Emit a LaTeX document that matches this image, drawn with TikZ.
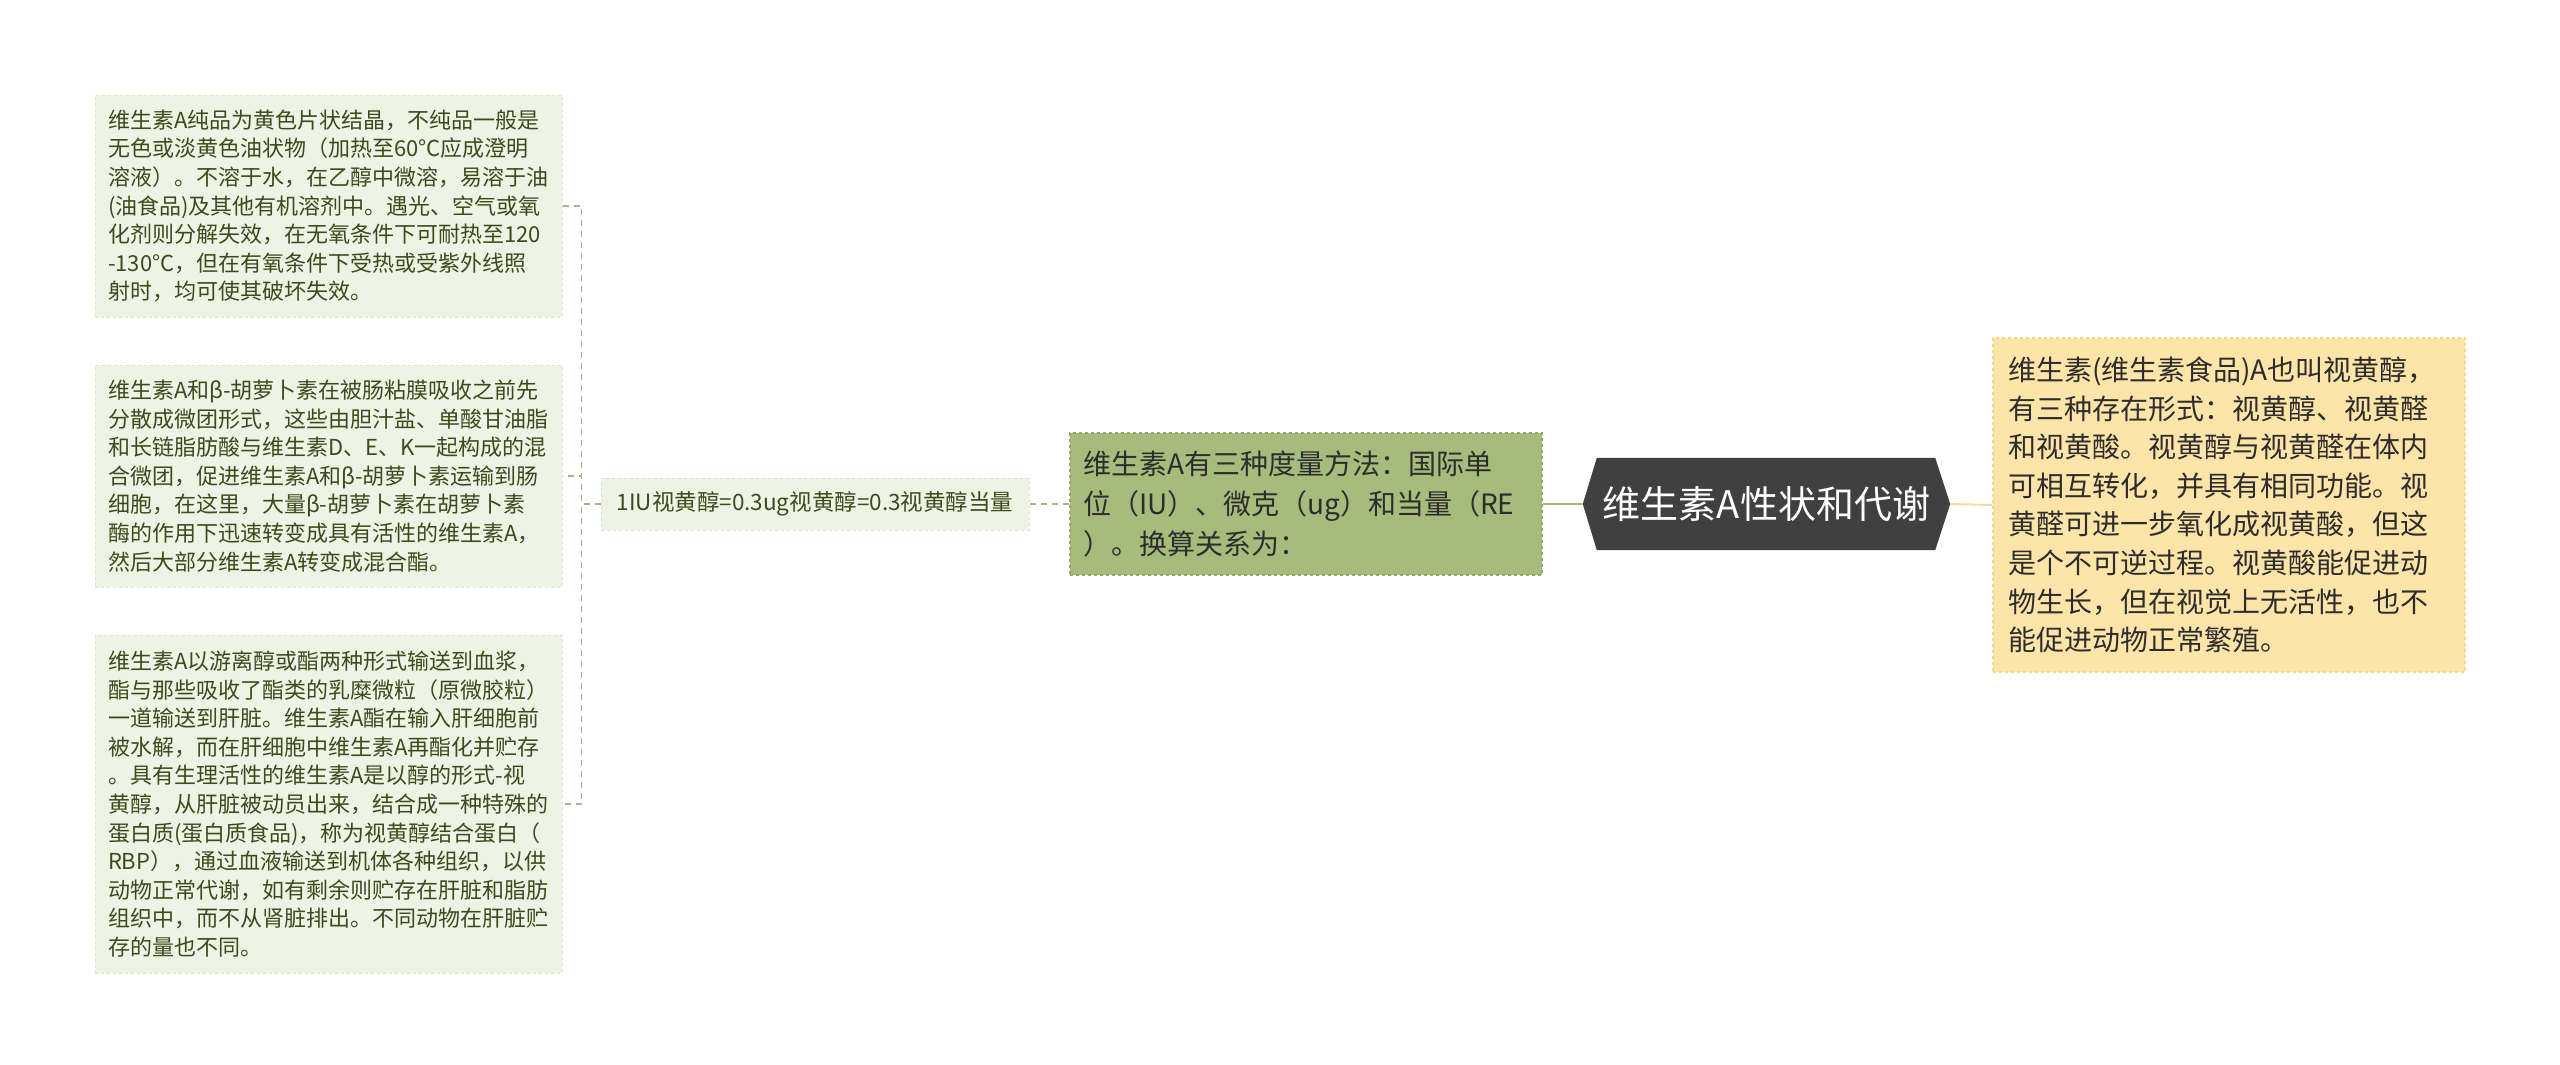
\documentclass[tikz,border=0pt]{standalone}
\usepackage{fontspec}
\setmainfont{Noto Sans CJK SC}
\usetikzlibrary{calc,backgrounds}
\definecolor{leftfill}{RGB}{239,243,229}
\definecolor{leftdraw}{RGB}{222,229,205}
\definecolor{lefttext}{RGB}{62,74,30}
\definecolor{greenfill}{RGB}{166,187,124}
\definecolor{greendraw}{RGB}{146,168,102}
\definecolor{hexfill}{RGB}{64,64,64}
\definecolor{yelfill}{RGB}{253,229,169}
\definecolor{yeldraw}{RGB}{244,214,140}
\definecolor{darktext}{RGB}{45,45,45}
\definecolor{conngrey}{RGB}{168,178,142}
\definecolor{conngreen}{RGB}{166,184,122}
\definecolor{conntan}{RGB}{242,221,160}
\tikzset{
  leafbox/.style={draw=leftdraw, dashed, line width=1pt, fill=leftfill, text=lefttext,
    rectangle, minimum width=467pt, text width=441pt, inner xsep=13pt, inner ysep=0pt,
    align=left, font=\fontsize{22}{28.6}\selectfont},
  midbox/.style={draw=leftdraw, dashed, line width=1pt, fill=leftfill, text=lefttext,
    rectangle, minimum width=428pt, minimum height=52pt, inner sep=0pt,
    align=center, font=\fontsize{22.5}{26}\selectfont},
  greenbox/.style={draw=greendraw, dashed, line width=1.5pt, fill=greenfill, text=darktext,
    rectangle, minimum width=472pt, minimum height=142pt, text width=446pt, inner xsep=13pt,
    align=left, font=\fontsize{28}{40}\selectfont},
  yelbox/.style={draw=yeldraw, dashed, line width=1.5pt, fill=yelfill, text=darktext,
    rectangle, minimum width=472pt, minimum height=334pt, text width=442pt, inner xsep=15pt,
    align=left, font=\fontsize{28}{38.6}\selectfont},
  titlebox/.style={rectangle, minimum width=367pt, minimum height=92pt, inner sep=0pt,
    text=white, font=\fontsize{38}{44}\selectfont},
  dashconn/.style={draw=conngrey, line width=1.5pt, dash pattern=on 6pt off 5pt},
}
\begin{document}
\begin{tikzpicture}[x=1pt,y=-1pt]
\useasboundingbox (0,0) rectangle (2560,1065);

\node[leafbox, minimum height=222pt] (b1) at (328.5,206) {维生素A纯品为黄色片状结晶，不纯品一般是\\无色或淡黄色油状物（加热至60°C应成澄明\\溶液）。不溶于水，在乙醇中微溶，易溶于油\\(油食品)及其他有机溶剂中。遇光、空气或氧\\化剂则分解失效，在无氧条件下可耐热至120\\-130°C，但在有氧条件下受热或受紫外线照\\射时，均可使其破坏失效。};

\node[leafbox, minimum height=222pt] (b2) at (328.5,476) {维生素A和β-胡萝卜素在被肠粘膜吸收之前先\\分散成微团形式，这些由胆汁盐、单酸甘油脂\\和长链脂肪酸与维生素D、E、K一起构成的混\\合微团，促进维生素A和β-胡萝卜素运输到肠\\细胞，在这里，大量β-胡萝卜素在胡萝卜素\\酶的作用下迅速转变成具有活性的维生素A，\\然后大部分维生素A转变成混合酯。};

\node[leafbox, minimum height=338pt] (b3) at (328.5,804) {维生素A以游离醇或酯两种形式输送到血浆，\\酯与那些吸收了酯类的乳糜微粒（原微胶粒）\\一道输送到肝脏。维生素A酯在输入肝细胞前\\被水解，而在肝细胞中维生素A再酯化并贮存\\。具有生理活性的维生素A是以醇的形式-视\\黄醇，从肝脏被动员出来，结合成一种特殊的\\蛋白质(蛋白质食品)，称为视黄醇结合蛋白（\\RBP），通过血液输送到机体各种组织，以供\\动物正常代谢，如有剩余则贮存在肝脏和脂肪\\组织中，而不从肾脏排出。不同动物在肝脏贮\\存的量也不同。};

\node[midbox] (s) at (815,504) {1IU视黄醇=0.3ug视黄醇=0.3视黄醇当量};

\node[greenbox] (g) at (1306,504) {维生素A有三种度量方法：国际单\\位（IU）、微克（ug）和当量（RE\\）。换算关系为：};

\node[titlebox] (t) at (1766.5,504) {维生素A性状和代谢};
\begin{scope}[on background layer]
\fill[white] (0,0) rectangle (2560,1065);
\fill[hexfill] ($(t.north west)+(14,0)$) -- ($(t.north east)+(-15,0)$) -- (t.east)
  -- ($(t.south east)+(-15,0)$) -- ($(t.south west)+(14,0)$) -- (t.west) -- cycle;
\end{scope}

\node[yelbox] (y) at (2229,505) {维生素(维生素食品)A也叫视黄醇，\\有三种存在形式：视黄醇、视黄醛\\和视黄酸。视黄醇与视黄醛在体内\\可相互转化，并具有相同功能。视\\黄醛可进一步氧化成视黄酸，但这\\是个不可逆过程。视黄酸能促进动\\物生长，但在视觉上无活性，也不\\能促进动物正常繁殖。};

% connectors
\draw[conngreen, line width=2pt] (t.west) -- (g.east);
\draw[conntan, line width=2pt] (t.east) -- (y.west);
\draw[dashconn] (g.west) -- (s.east);
\draw[dashconn] (s.west) -- ++(-19,0) |- (b1.east);
\draw[dashconn] (s.west) -- ++(-19,0) |- (b2.east);
\draw[dashconn] (s.west) -- ++(-19,0) |- (b3.east);
\end{tikzpicture}
\end{document}
